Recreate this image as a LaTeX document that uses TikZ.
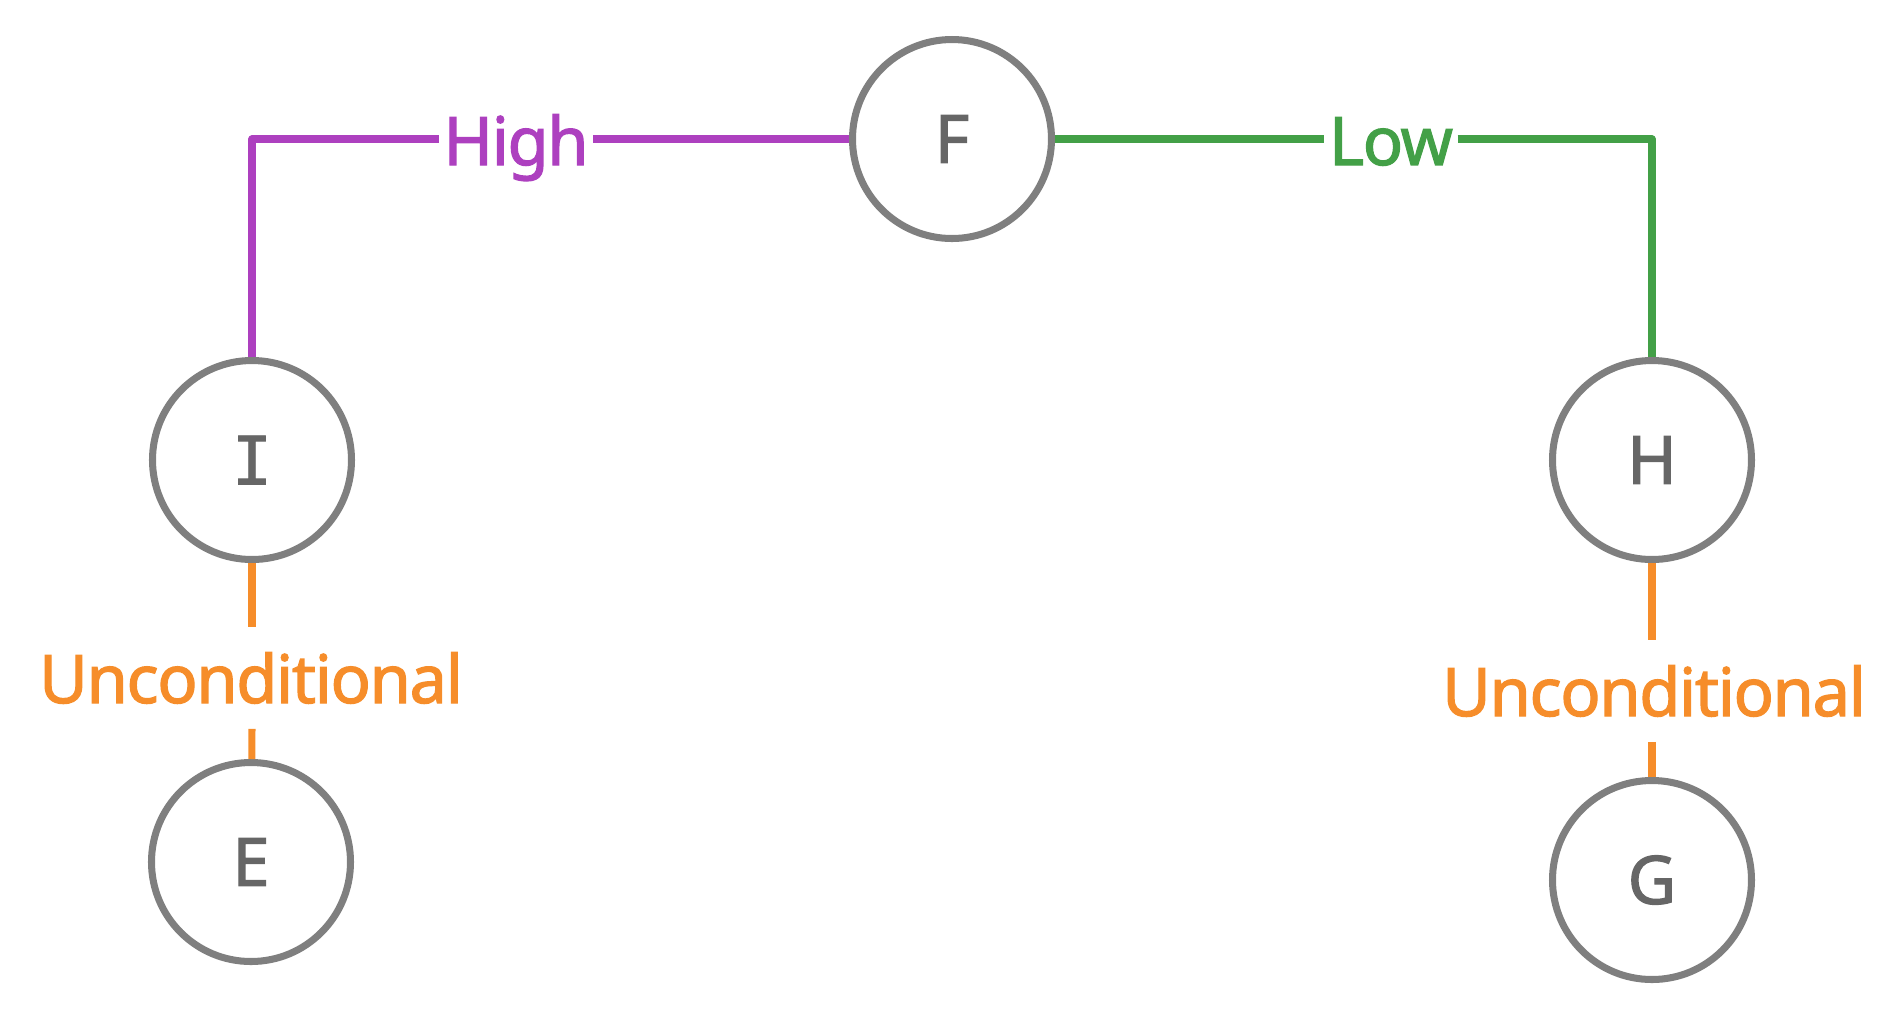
\documentclass[tikz,border=0pt]{standalone}
\usepackage{fontspec}
\setmainfont{Noto Sans}[FakeBold=1.8]
\newfontfamily\plainfont{Noto Sans}[FakeBold=1.8,LetterSpace=-2]
\newfontfamily\slabfont{DejaVu Sans Mono}[FakeBold=1.2]
\definecolor{ring}{HTML}{7F7F7F}
\definecolor{letter}{HTML}{666666}
\definecolor{highc}{HTML}{AD40BF}
\definecolor{lowc}{HTML}{43A047}
\definecolor{uncondc}{HTML}{F68D2A}

\begin{document}
\begin{tikzpicture}[
  every node/.style={font=\plainfont\fontsize{19}{23}\selectfont},
  state/.style={circle,draw=ring,line width=2pt,minimum size=1.99cm,inner sep=0pt,text=letter},
  cond/.style={anchor=base,inner xsep=0.04cm,inner ysep=0.245cm},
  link/.style={line width=2pt,line join=round}]
  \useasboundingbox (0,0) rectangle (19.04,-10.21);
  \def\ytop{-1.39}
  \def\ymid{-4.60}
  \def\xl{2.52}
  \def\xr{16.52}
  % states
  \node[state] (F) at (9.52,\ytop) {F};
  \node[state] (I) at (\xl,\ymid) {\slabfont I};
  \node[state] (H) at (\xr,\ymid) {H};
  \node[state] (E) at (2.51,-8.62) {E};
  \node[state] (G) at (\xr,-8.80) {G};
  %
  \node[cond,text=highc] (high) at (5.16,-1.65) {High};
  \node[cond,text=lowc] (low) at (13.91,-1.65) {Low};
  \node[cond,text=uncondc] (uncondI) at (2.51,-7.03) {Unconditional};
  \node[cond,text=uncondc] (uncondH) at (16.54,-7.16) {Unconditional};
  %
  \draw[link,highc] (F) -- (F -| high.east);
  \draw[link,highc] (F -| high.west) -| (I);
  \draw[link,lowc] (F) -- (F -| low.west);
  \draw[link,lowc] (F -| low.east) -| (H);
  %
  \draw[link,uncondc] (I) -- (I |- uncondI.north);
  \draw[link,uncondc] (I |- uncondI.south) -- (E);
  \draw[link,uncondc] (H) -- (H |- uncondH.north);
  \draw[link,uncondc] (H |- uncondH.south) -- (G);
\end{tikzpicture}
\end{document}
